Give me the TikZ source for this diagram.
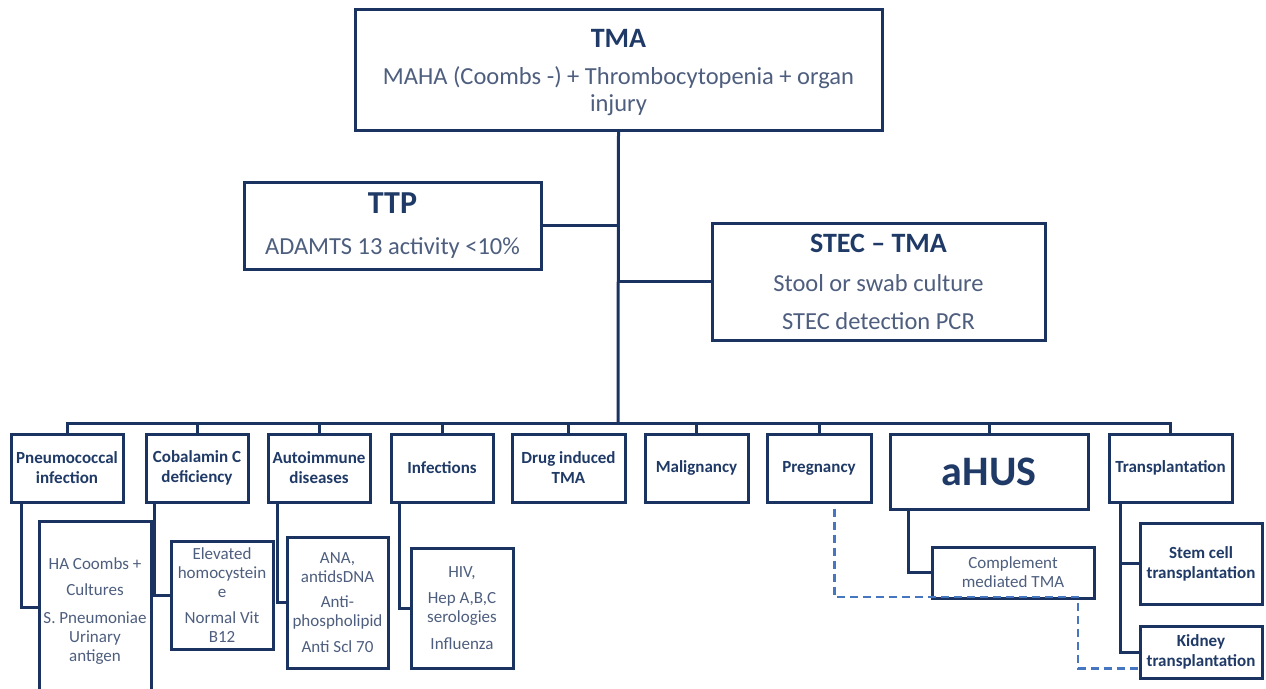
\documentclass[tikz,border=0pt]{standalone}
\usepackage{fontspec}
\setmainfont{Carlito}
\definecolor{navy}{HTML}{1B3360}
\definecolor{hdrc}{HTML}{1F3A66}
\definecolor{detc}{HTML}{4E5E7E}
\definecolor{dashblue}{HTML}{4676C0}
\tikzset{
  box/.style={draw=navy, line width=3pt, fill=white, align=center, inner sep=1pt, text=hdrc},
  hdr/.style={box, font=\fontsize{17}{20}\selectfont\bfseries},
  det/.style={box, font=\fontsize{17}{19}\selectfont, text=detc},
  big/.style={box, font=\fontsize{24.5}{27}\selectfont, text=detc},
  link/.style={draw=navy, line width=3pt},
  dlink/.style={draw=dashblue, line width=2.4pt, dash pattern=on 8pt off 5pt},
}
\begin{document}
\begin{tikzpicture}[x=1pt,y=-1pt]
\useasboundingbox (0,0) rectangle (1266,688);
% top boxes
\node[big, minimum width=527, minimum height=121] (tma) at (618.5,69.5)
  {\rule{0pt}{24pt}{\color{hdrc}\fontsize{28}{30}\selectfont\bfseries TMA}\\[10pt]MAHA (Coombs -) + Thrombocytopenia + organ\\injury};
\node[big, minimum width=297, minimum height=87] (ttp) at (392.5,225.5)
  {{\color{hdrc}\fontsize{32}{32}\selectfont\bfseries TTP}\\[14pt]ADAMTS 13 activity <10\%};
\node[big, minimum width=333, minimum height=117] (stec) at (878.5,281.5)
  {{\color{hdrc}\fontsize{28}{30}\selectfont\bfseries STEC -- TMA}\\[12pt]Stool or swab culture\\[11pt]STEC detection PCR};
% bus
\coordinate (bus) at (618,423);
% second row
\node[hdr, minimum width=112, minimum height=68] (pn) at (67,468) {Pneumococcal\\infection};
\node[hdr, minimum width=102, minimum height=68] (cob) at (197,468) {Cobalamin C\\deficiency};
\node[hdr, minimum width=102, minimum height=68] (aut) at (319,468) {Autoimmune\\diseases};
\node[hdr, minimum width=102, minimum height=68] (inf) at (442,468) {Infections};
\node[hdr, minimum width=113, minimum height=68] (drug) at (568.5,468) {Drug induced\\TMA};
\node[hdr, minimum width=103, minimum height=68] (mal) at (696.5,468) {Malignancy};
\node[hdr, minimum width=104, minimum height=68] (preg) at (819,468) {Pregnancy};
\node[hdr, minimum width=198, minimum height=75, font=\fontsize{42}{46}\selectfont\bfseries] (ahus) at (989,471.5) {aHUS};
\node[hdr, minimum width=123, minimum height=68] (trans) at (1170.5,468) {Transplantation};
% detail boxes
\node[det, minimum width=112, minimum height=180] (pnd) at (95,611)
  {HA Coombs +\\[7pt]Cultures\\[9pt]S. Pneumoniae\\Urinary\\antigen};
\node[det, minimum width=102, minimum height=108] (cobd) at (222,595)
  {Elevated\\homocystein\\e\\[7pt]Normal Vit\\B12};
\node[det, minimum width=101, minimum height=131] (autd) at (337.5,602.5)
  {ANA,\\antidsDNA\\[6pt]Anti-\\phospholipid\\[7pt]Anti Scl 70};
\node[det, minimum width=102, minimum height=120] (infd) at (462,608)
  {HIV,\\[7pt]Hep A,B,C\\serologies\\[8pt]Influenza};
\node[det, minimum width=162, minimum height=51] (comp) at (1013,572.5)
  {Complement\\mediated TMA};
\node[hdr, minimum width=122, minimum height=81] (stem) at (1201,563.5)
  {Stem cell\\transplantation};
\node[hdr, minimum width=122, minimum height=52] (kid) at (1201,652)
  {Kidney\\transplantation};
% connectors
\draw[link] (tma.south) -- (bus);
\draw[link] (ttp.east) -- (ttp.east -| bus);
\draw[link] (stec.west) -- (stec.west -| bus);
\draw[link] (pn.north) -- (pn.north |- bus) -- (trans.north |- bus) -- (trans.north);
\foreach \n in {cob,aut,inf,drug,mal,preg,ahus}
  \draw[link] (\n.north) -- (\n.north |- bus);
\draw[link] ([xshift=12pt]pn.south west) |- ([yshift=4pt]pnd.west);
\draw[link] ([xshift=10pt]cob.south west) |- (cobd.west);
\draw[link] ([xshift=11pt]aut.south west) |- (autd.west);
\draw[link] ([xshift=10pt]inf.south west) |- (infd.west);
\draw[link] ([xshift=20pt]ahus.south west) |- (comp.west);
\draw[link] ([xshift=13pt]trans.south west) |- (stem.west);
\draw[link] ([xshift=13pt]trans.south west) |- (kid.west);
% dashed
\coordinate (dk) at (1078,597);
\draw[dlink] ([xshift=69pt,yshift=-5pt]preg.south west) |- (dk) |- ([yshift=11pt]kid.south west);
\end{tikzpicture}
\end{document}
